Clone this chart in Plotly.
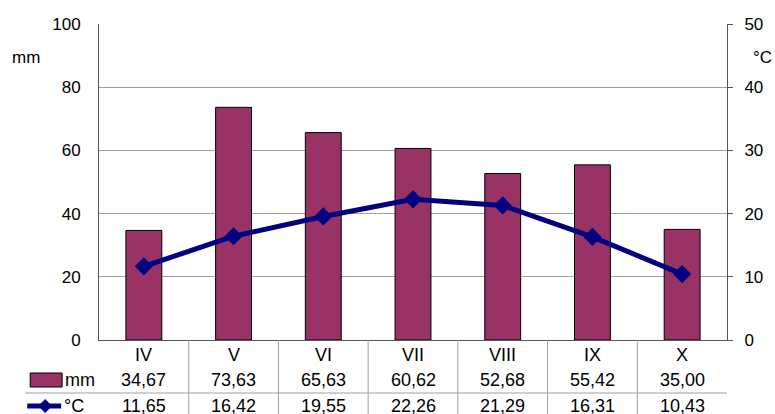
import plotly.graph_objects as go

months = ["IV", "V", "VI", "VII", "VIII", "IX", "X"]
precip_mm = [34.67, 73.63, 65.63, 60.62, 52.68, 55.42, 35.00]
temp_c = [11.65, 16.42, 19.55, 22.26, 21.29, 16.31, 10.43]
left_ticks = [0, 20, 40, 60, 80, 100]
right_ticks = [0, 10, 20, 30, 40, 50]

BAR = "#993366"
LINE = "#000080"
FONT = "Liberation Sans, Arial, sans-serif"
W, H = 775, 414
L, R, T, B = 99, 46, 24, 74
PW, PH = W - L - R, H - T - B

def px(xp):
    return (xp - L) / PW

def py(yp):
    return (H - B - yp) / PH

def fmt(v):
    return f"{v:.2f}".replace(".", ",")

xs = list(range(len(months)))

fig = go.Figure()
fig.add_trace(go.Bar(x=xs, y=precip_mm, width=0.4, marker=dict(color=BAR, line=dict(color="#000000", width=1)),
                     yaxis="y", showlegend=False))
fig.add_trace(go.Scatter(x=xs, y=temp_c, mode="lines+markers", line=dict(color=LINE, width=5),
                         marker=dict(symbol="diamond", size=14, color=LINE), yaxis="y2", showlegend=False))

fig.update_layout(
    width=W, height=H, margin=dict(l=L, r=R, t=T, b=B),
    paper_bgcolor="white", plot_bgcolor="white",
    font=dict(family=FONT, size=17, color="#000000"),
    xaxis=dict(range=[-0.5, len(months) - 0.5], showticklabels=False, showgrid=False, zeroline=False,
               showline=True, linecolor="#555555", linewidth=1, ticks=""),
    yaxis=dict(range=[0, 100], tickvals=left_ticks, showgrid=True, gridcolor="#a0a0a0", gridwidth=1,
               zeroline=False, showline=True, linecolor="#555555", linewidth=1, ticks="",
               ticklabelstandoff=14, tickfont=dict(size=17)),
    yaxis2=dict(range=[0, 50], tickvals=right_ticks, overlaying="y", side="right", showgrid=False,
                zeroline=False, showline=True, linecolor="#555555", linewidth=1, ticks="outside",
                ticklen=5, tickcolor="#555555", ticklabelstandoff=8, tickfont=dict(size=17)),
)

shapes = []
# table vertical separators
for k in range(1, len(months)):
    shapes.append(dict(type="line", xref="paper", yref="paper", x0=k / len(months), x1=k / len(months),
                       y0=0, y1=py(H), line=dict(color="#a0a0a0", width=1)))
# horizontal separator between rows
shapes.append(dict(type="line", xref="paper", yref="paper", x0=px(25), x1=1, y0=py(393), y1=py(393),
                   line=dict(color="#a0a0a0", width=1)))
# legend key: bar
shapes.append(dict(type="rect", xref="paper", yref="paper", x0=px(30), x1=px(62), y0=py(387), y1=py(373),
                   fillcolor=BAR, line=dict(color="#000000", width=1)))
# legend key: line + diamond
shapes.append(dict(type="line", xref="paper", yref="paper", x0=px(27), x1=px(61), y0=py(406), y1=py(406),
                   line=dict(color=LINE, width=5)))
cx, cy = 45, 406
shapes.append(dict(type="path", xref="paper", yref="paper",
                   path=f"M {px(cx-7)} {py(cy)} L {px(cx)} {py(cy-7)} L {px(cx+7)} {py(cy)} L {px(cx)} {py(cy+7)} Z",
                   fillcolor=LINE, line=dict(color=LINE, width=0)))
fig.update_layout(shapes=shapes)

ann = []
for i, m in enumerate(months):
    ann.append(dict(x=i, y=py(355), xref="x", yref="paper", text=m, showarrow=False,
                    font=dict(size=18), xanchor="center", yanchor="middle"))
    ann.append(dict(x=i, y=py(380), xref="x", yref="paper", text=fmt(precip_mm[i]), showarrow=False,
                    font=dict(size=18), xanchor="center", yanchor="middle"))
    ann.append(dict(x=i, y=py(406), xref="x", yref="paper", text=fmt(temp_c[i]), showarrow=False,
                    font=dict(size=18), xanchor="center", yanchor="middle"))
ann.append(dict(x=px(63), y=py(380), xref="paper", yref="paper", text="mm", showarrow=False,
                font=dict(size=18), xanchor="left", yanchor="middle"))
ann.append(dict(x=px(62), y=py(406), xref="paper", yref="paper", text="°C", showarrow=False,
                font=dict(size=18), xanchor="left", yanchor="middle"))
ann.append(dict(x=px(26), y=py(57), xref="paper", yref="paper", text="mm", showarrow=False,
                font=dict(size=17), xanchor="center", yanchor="middle"))
ann.append(dict(x=px(765), y=py(57), xref="paper", yref="paper", text="°C", showarrow=False,
                font=dict(size=17), xanchor="center", yanchor="middle"))
fig.update_layout(annotations=ann)

fig.write_html("out.html")
